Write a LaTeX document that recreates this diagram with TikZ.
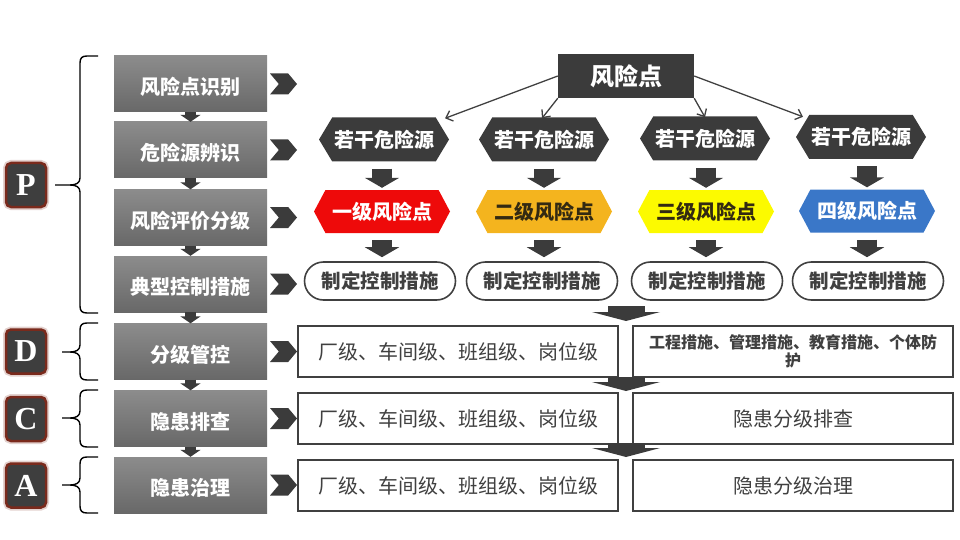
\documentclass[tikz,border=0pt]{standalone}
\usepackage{fontspec}
\setmainfont{Noto Sans CJK SC}
\newfontfamily\serifL{Liberation Serif}
\usetikzlibrary{shapes.symbols,arrows.meta}
\definecolor{dk}{HTML}{3B3B3B}
\definecolor{ln}{HTML}{404040}
\definecolor{gtop}{HTML}{8C8C8C}
\definecolor{gbot}{HTML}{686868}
\definecolor{lfill}{HTML}{3E3E3E}
\definecolor{lbord}{HTML}{7A2A1C}
\definecolor{rred}{HTML}{EE0A0A}
\definecolor{rorange}{HTML}{F4B41E}
\definecolor{ryellow}{HTML}{FCFA00}
\definecolor{rblue}{HTML}{3A77C8}
\definecolor{dtext}{HTML}{332A12}
\newcommand\dn[1]{\raisebox{-3pt}[\height][\depth]{#1}}
\newcommand\mybrace[4]{%
  \draw[bracestyle] (98,#1) -- (87,#1) .. controls (82,#1) and (80,#1+2) .. (80,#1+7)
    -- (80,#2-7) .. controls (80,#2-2) and (76,#2) .. (70,#2) -- (#4,#2)
    (70,#2) .. controls (76,#2) and (80,#2+2) .. (80,#2+7)
    -- (80,#3-7) .. controls (80,#3-2) and (82,#3) .. (87,#3) -- (98,#3);}
\tikzset{
  bracestyle/.style={line width=1.4pt, black},
  graybox/.style={rectangle, minimum width=153pt, minimum height=56pt, inner sep=0pt,
    top color=gtop, bottom color=gbot, text=white, font=\bfseries\fontsize{20}{22}\selectfont},
  chev/.style={signal, signal from=west, signal to=east, signal pointer angle=100,
    fill=dk, minimum width=27pt, minimum height=21pt, inner sep=0pt},
  lettbox/.style={rectangle, rounded corners=5pt, fill=lfill, draw=lbord, line width=2.5pt,
    minimum width=40pt, minimum height=44pt, inner sep=0pt, text=white,
    font=\serifL\bfseries\fontsize{32}{32}\selectfont,
    preaction={draw=lbord!70, line width=6pt, opacity=0.3}},
  hexa/.style={signal, signal to=east and west, signal pointer angle=118, fill=dk,
    minimum width=130pt, minimum height=44pt, inner sep=0pt, text=white,
    font=\bfseries\fontsize{20}{22}\selectfont},
  lvl/.style={signal, signal to=east and west, signal pointer angle=124,
    minimum width=136pt, minimum height=43pt, inner sep=0pt,
    font=\bfseries\fontsize{20}{22}\selectfont},
  pill/.style={rectangle, rounded corners=19pt, draw=ln, line width=1.6pt, fill=white,
    minimum width=151pt, minimum height=38pt, inner sep=0pt, text=ln,
    font=\bfseries\fontsize{19.5}{22}\selectfont},
  wbox/.style={rectangle, draw=ln, line width=1.3pt, fill=white, minimum width=320pt,
    minimum height=51pt, inner sep=0pt, text=ln, font=\fontsize{20}{22}\selectfont},
  topbox/.style={rectangle, fill=dk, minimum width=136pt, minimum height=44pt, inner sep=0pt,
    text=white, font=\bfseries\fontsize{24}{26}\selectfont},
  thinarr/.style={draw=ln, line width=1.3pt, -{Straight Barb[length=6pt,width=11pt,line width=1.3pt]}},
  smallarr/.style={draw=dk, line width=11pt, -{Triangle[length=7pt,width=20pt]}},
  colarr/.style={draw=dk, line width=20pt, -{Triangle[length=10pt,width=34pt]}},
  bigarr/.style={draw=dk, line width=37pt, -{Triangle[length=9pt,width=68pt]}},
}
\begin{document}
\begin{tikzpicture}[x=1pt,y=-1pt]
\useasboundingbox (0,0) rectangle (960,540);
% left gray boxes
\node[graybox] (g1) at (190.5,84) {\dn{风险点识别}};
\node[graybox] (g2) at (190.5,150) {\dn{危险源辨识}};
\node[graybox] (g3) at (190.5,217.5) {\dn{风险评价分级}};
\node[graybox] (g4) at (190.5,284) {\dn{典型控制措施}};
\node[graybox] (g5) at (190.5,351.5) {\dn{分级管控}};
\node[graybox] (g6) at (190.5,418.5) {\dn{隐患排查}};
\node[graybox] (g7) at (190.5,485) {\dn{隐患治理}};
\draw[smallarr] (g1.south) -- (g2.north);
\draw[smallarr] (g2.south) -- (g3.north);
\draw[smallarr] (g3.south) -- (g4.north);
\draw[smallarr] (g4.south) -- (g5.north);
\draw[smallarr] (g5.south) -- (g6.north);
\draw[smallarr] (g6.south) -- (g7.north);
% chevrons
\node[chev] (c1) at (283.5,84) {};
\node[chev] (c2) at (283.5,150) {};
\node[chev] (c3) at (283.5,217.5) {};
\node[chev] (c4) at (283.5,284) {};
\node[chev] (c5) at (283.5,351.5) {};
\node[chev] (c6) at (283.5,418.5) {};
\node[chev] (c7) at (283.5,485) {};
% letters and braces
\node[lettbox] (lp) at (26,185) {P};
\node[lettbox] (ld) at (26,351.5) {D};
\node[lettbox] (lc) at (26,419) {C};
\node[lettbox] (la) at (26,485.5) {A};
\mybrace{56}{185}{313}{55}
\mybrace{323}{352}{380}{62}
\mybrace{390}{418}{447}{62}
\mybrace{457}{485}{513}{62}
% top node
\node[topbox] (top) at (626,76) {风险点};
% hazard hexagons
\node[hexa] (h1) at (384,139.5) {若干危险源};
\node[hexa] (h2) at (544,139.5) {若干危险源};
\node[hexa] (h3) at (705,138.5) {若干危险源};
\node[hexa] (h4) at (861,137) {若干危险源};
\draw[thinarr] (top.west) -- ([xshift=61pt,yshift=-1pt]h1.north);
\draw[thinarr] (top.south west) -- ([xshift=-2pt,yshift=-1pt]h2.north);
\draw[thinarr] (top.south east) -- ([yshift=-1pt]h3.north);
\draw[thinarr] (top.east) -- ([xshift=-58pt,yshift=-2pt]h4.north);
% level hexagons
\node[lvl, fill=rred, text=white] (r1) at (382,211.5) {一级风险点};
\node[lvl, fill=rorange, text=dtext] (r2) at (544,211.5) {二级风险点};
\node[lvl, fill=ryellow, text=dtext] (r3) at (706,211.5) {三级风险点};
\node[lvl, fill=rblue, text=white] (r4) at (867,211) {四级风险点};
% pills
\node[pill] (p1) at (380,281) {制定控制措施};
\node[pill] (p2) at (542,281) {制定控制措施};
\node[pill] (p3) at (707,281) {制定控制措施};
\node[pill] (p4) at (868,281) {制定控制措施};
\foreach \i in {1,2,3,4}{
  \draw[colarr, shorten <=7pt, shorten >=2pt] (h\i.south -| r\i.north) -- (r\i.north);
  \draw[colarr, shorten <=7pt, shorten >=4pt] (r\i.south) -- (r\i.south |- p\i.north);
}
% bottom boxes
\node[wbox] (d1) at (458,351.5) {厂级、车间级、班组级、岗位级};
\node[wbox, font=\bfseries\fontsize{16}{18}\selectfont, align=center, text width=300pt] (d2) at (793,351.5) {工程措施、管理措施、教育措施、个体防\\护};
\node[wbox] (k1) at (458,418.5) {厂级、车间级、班组级、岗位级};
\node[wbox] (k2) at (793,418.5) {隐患分级排查};
\node[wbox] (a1) at (458,485.5) {厂级、车间级、班组级、岗位级};
\node[wbox] (a2) at (793,485.5) {隐患分级治理};
% big arrows
\coordinate (b1s) at (626,306);
\coordinate (b1e) at (626,321);
\coordinate (b2s) at (626,377);
\coordinate (b2e) at (626,391);
\coordinate (b3s) at (626,443);
\coordinate (b3e) at (626,457);
\draw[bigarr] (b1s) -- (b1e);
\draw[bigarr] (b2s) -- (b2e);
\draw[bigarr] (b3s) -- (b3e);
\end{tikzpicture}
\end{document}
